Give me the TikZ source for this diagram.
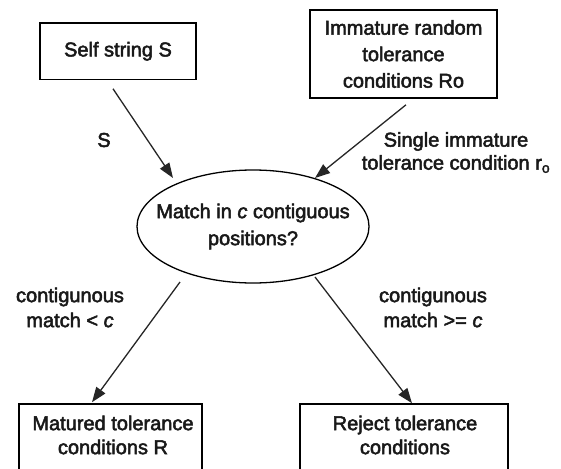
\documentclass[tikz,border=0pt]{standalone}
\usepackage{fontspec}
\setmainfont{Liberation Sans}[FakeBold=2.5]
\usetikzlibrary{arrows.meta,shapes.geometric}
\begin{document}
\begin{tikzpicture}[x=1pt,y=-1pt,
  every node/.style={font=\fontsize{20}{25}\selectfont, align=center, inner sep=0pt, text=black!90},
  box/.style={draw=black, line width=1.6pt},
  decision/.style={ellipse, draw=black, line width=1.3pt},
  flow/.style={draw=black!85, line width=1.3pt, -{Triangle[length=15pt,width=11pt]}},
  lbl/.style={font=\fontsize{20}{23}\selectfont}]
\useasboundingbox (0,0) rectangle (561,468);
\clip (0,0) rectangle (561,468);

% inputs
\node[box, minimum width=156pt, minimum height=56.5pt] (self) at (118,51.25) {Self string S};
\node[box, minimum width=187pt, minimum height=88pt, font=\fontsize{20}{26.5}\selectfont] (imm) at (403.5,54)
  {Immature random\\tolerance\\conditions Ro};

% decision
\node[decision, minimum width=232pt, minimum height=113pt] (match) at (253,226.5) {};
\node[font=\fontsize{20}{27}\selectfont] (matchtxt) at (match.center) {Match in \textit{c} contiguous\\positions?};

% outcomes (bottom edges run past the lower border)
\node[box, minimum width=183pt, minimum height=66pt] (mat) at (110.5,437) {};
\node[font=\fontsize{20}{24}\selectfont] (mattxt) at (113,435) {Matured tolerance\\conditions R};
\node[box, minimum width=208pt, minimum height=66pt] (rej) at (404,437) {};
\node[font=\fontsize{20}{24}\selectfont] (rejtxt) at (405,435) {Reject tolerance\\conditions};

% connectors
\draw[flow] ([shift={(-5,8.5)}]self.south) -- ([shift={(-80,-48.5)}]match.center);
\draw[flow] ([shift={(2.5,6)}]imm.south) -- ([shift={(62,-48.5)}]match.center);
\draw[flow] ([shift={(-73,55.5)}]match.center) -- ([shift={(-18.5,-1)}]mat.north);
\draw[flow] ([shift={(62,50.5)}]match.center) -- ([shift={(8,0)}]rej.north);

% edge labels
\node (slbl) at (104,140) {S};
\node[lbl] (rlbl) at (456,152.5) {Single immature\\tolerance condition r\textsubscript{o}};
\node[lbl, font=\fontsize{20}{25}\selectfont] (lesslbl) at (70,307.5) {contigunous\\match < \textit{c}};
\node[lbl, font=\fontsize{20}{25}\selectfont] (morelbl) at (433,307.5) {contigunous\\match >= \textit{c}};
\end{tikzpicture}
\end{document}
